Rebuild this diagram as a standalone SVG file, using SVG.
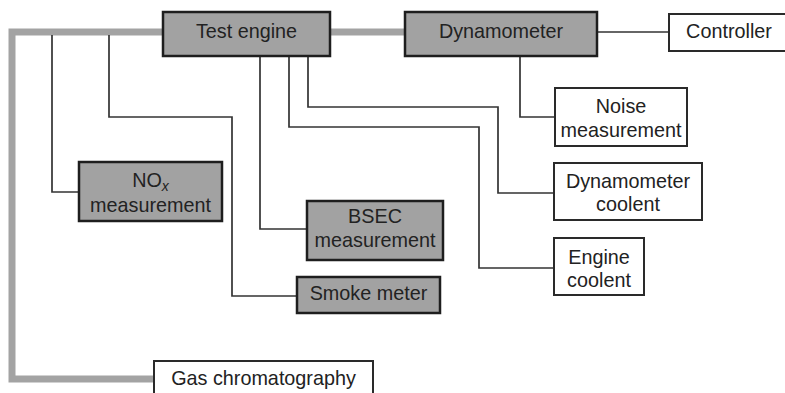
<svg xmlns="http://www.w3.org/2000/svg" width="785" height="393" viewBox="0 0 785 393">
<style>
.g{fill:#a2a2a2;stroke:#1e1e1e;stroke-width:2.5}
.w{fill:#fff;stroke:#2a2a2a;stroke-width:2}
.t{font-family:"Liberation Sans",Arial,sans-serif;font-size:19.8px;fill:#222;text-anchor:middle}
.c{fill:none;stroke:#333;stroke-width:1.7}
.p{fill:none;stroke:#a3a3a3;stroke-width:7}
</style>
<rect width="785" height="393" fill="#fff"/>
<g id="connectors">
<path class="p" d="M163 32H12V379H154"/>
<path class="p" d="M330 32H405"/>
<path class="c" d="M597 32H669"/>
<path class="c" d="M520 56V117H555"/>
<path class="c" d="M52 35V192H79"/>
<path class="c" d="M109 35V117H232V296H297"/>
<path class="c" d="M260 56V229H307"/>
<path class="c" d="M289 56V127H479V268H554"/>
<path class="c" d="M308 56V107H498V193H554"/>
</g>
<g id="test-engine"><rect class="g" x="163" y="12" width="167" height="44"/><text class="t" x="246.5" y="38">Test engine</text></g>
<g id="dynamometer"><rect class="g" x="405" y="12" width="192" height="44"/><text class="t" x="501" y="38">Dynamometer</text></g>
<g id="controller"><rect class="w" x="669" y="14" width="120" height="37"/><text class="t" x="729" y="38">Controller</text></g>
<g id="noise"><rect class="w" x="555" y="88" width="132" height="58"/><text class="t" x="621" y="113">Noise</text><text class="t" x="621" y="137">measurement</text></g>
<g id="dyno-coolent"><rect class="w" x="554" y="163" width="148" height="57"/><text class="t" x="628" y="188">Dynamometer</text><text class="t" x="628" y="211">coolent</text></g>
<g id="engine-coolent"><rect class="w" x="554" y="238" width="90" height="57"/><text class="t" x="599" y="264">Engine</text><text class="t" x="599" y="287">coolent</text></g>
<g id="nox"><rect class="g" x="79" y="162" width="143" height="59"/><text class="t" x="150.5" y="187">NO<tspan font-size="14" font-style="italic" dy="4">x</tspan></text><text class="t" x="150.5" y="212">measurement</text></g>
<g id="bsec"><rect class="g" x="307" y="201" width="136" height="59"/><text class="t" x="375" y="223">BSEC</text><text class="t" x="375" y="247">measurement</text></g>
<g id="smoke"><rect class="g" x="297" y="277" width="143" height="36"/><text class="t" x="368.5" y="300">Smoke meter</text></g>
<g id="gas"><rect class="w" x="154" y="361" width="219" height="40"/><text class="t" x="263.5" y="385">Gas chromatography</text></g>
</svg>
